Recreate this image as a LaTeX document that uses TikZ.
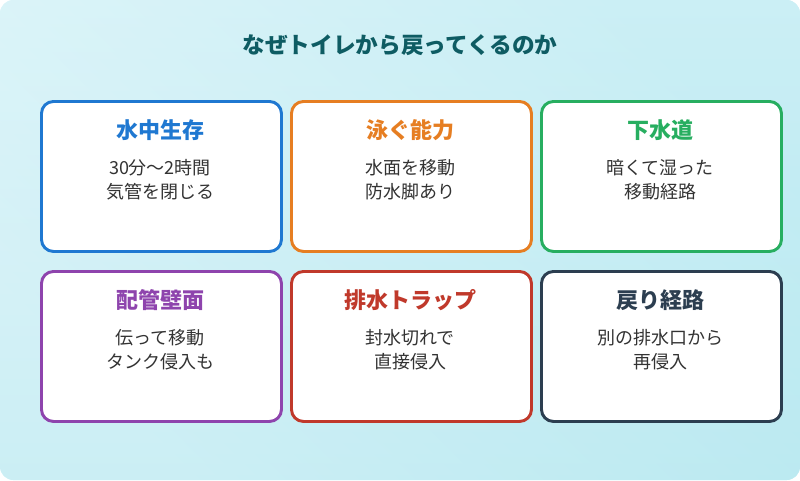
\documentclass[tikz,border=0pt]{standalone}
\usepackage{fontspec}
\setmainfont{Noto Sans CJK JP}
\definecolor{cblue}{HTML}{1F78D1}
\definecolor{corange}{HTML}{E67E22}
\definecolor{cgreen}{HTML}{27AE60}
\definecolor{cpurple}{HTML}{8E44AD}
\definecolor{cred}{HTML}{C0392B}
\definecolor{cdark}{HTML}{2C3E50}
\definecolor{ctitle}{HTML}{0E5C63}
\definecolor{bgA}{HTML}{E2F6FA}
\definecolor{bgB}{HTML}{B5E8F0}
\definecolor{ctext}{HTML}{333333}
\tikzset{
  card/.style={draw=#1, line width=2.2pt, rounded corners=9pt, fill=white, minimum width=180pt, minimum height=112.5pt, anchor=north west},
  ctitle/.style={text=#1, font=\bfseries\fontsize{16.5}{19}\selectfont},
  cbody/.style={text=ctext, font=\fontsize{13.5}{18}\selectfont, align=center}
}
\begin{document}
\begin{tikzpicture}[x=0.75pt,y=-0.75pt]
\useasboundingbox (0,0) rectangle (800,480);
\shade[left color=bgA, right color=bgB, shading angle=135, rounded corners=10pt] (0,0) rectangle (800,480);
\shade[top color=bgA, bottom color=bgB, opacity=0.5, rounded corners=10pt] (0,0) rectangle (800,480);
\node[text=ctitle, font=\bfseries\fontsize{17}{20}\selectfont] (title) at (400,45) {なぜトイレから戻ってくるのか};
\foreach \n/\x/\y/\c/\t/\a/\b in {
 a/40/100/cblue/水中生存/30分〜2時間/気管を閉じる,
 b/290/100/corange/泳ぐ能力/水面を移動/防水脚あり,
 c/540/100/cgreen/下水道/暗くて湿った/移動経路,
 d/40/270/cpurple/配管壁面/伝って移動/タンク侵入も,
 e/290/270/cred/排水トラップ/封水切れで/直接侵入,
 f/540/270/cdark/戻り経路/別の排水口から/再侵入}{
 \node[card=\c] (\n) at (\x,\y) {};
 \node[ctitle=\c] (\n t) at (\x+120,\y+30) {\t};
 \node[cbody] (\n b) at (\x+120,\y+80) {\a\\\b};
}
\end{tikzpicture}
\end{document}
